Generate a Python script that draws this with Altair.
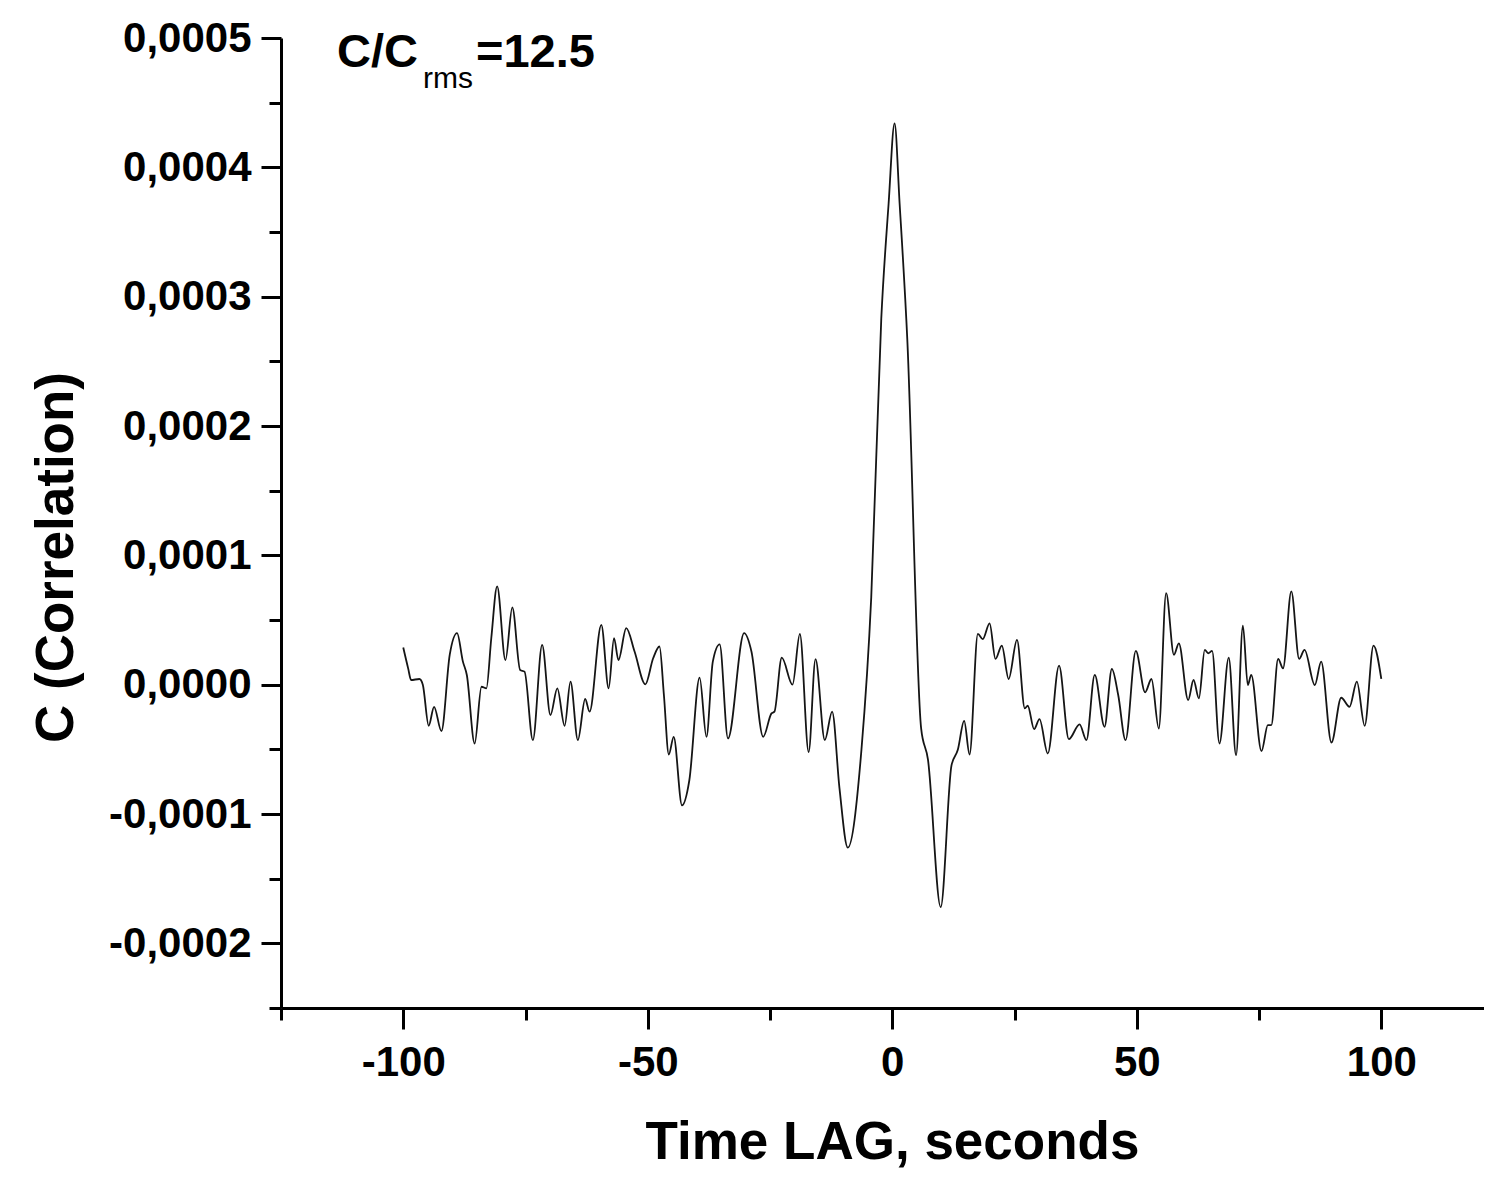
import altair as alt
import pandas as pd

# ---- data (lag in seconds, correlation in units of 1e-4) ----
lag = [
    -100.0, -99.0, -98.4, -96.7, -96.0, -94.8, -93.7, -92.2, -90.5, -89.0,
    -87.8, -87.0, -85.4, -84.0, -83.0, -82.0, -80.8, -79.1, -77.7, -76.1,
    -75.2, -73.5, -71.6, -69.9, -68.5, -67.0, -65.8, -64.3, -62.8, -61.9,
    -59.5, -58.0, -56.9, -56.0, -54.4, -52.7, -50.5, -48.9, -47.6, -46.7,
    -45.7, -44.7, -43.0, -41.5, -39.4, -38.0, -36.7, -35.3, -33.6, -30.3,
    -28.8, -26.4, -24.7, -24.1, -22.6, -20.4, -18.9, -17.1, -15.7, -13.8,
    -12.3, -10.8, -9.1, -6.3, -4.3, -2.25, -0.75, 0.47, 1.5, 3.07,
    5.9, 7.3, 9.9, 12.1, 13.4, 14.7, 15.8, 17.5, 18.5, 19.9,
    21.1, 22.4, 23.8, 25.5, 27.1, 27.7, 29.0, 30.1, 31.8, 34.1,
    36.1, 38.3, 39.7, 41.4, 43.4, 44.9, 46.2, 47.7, 49.8, 51.7,
    53.0, 54.5, 56.0, 57.6, 58.6, 60.5, 61.6, 62.7, 63.9, 64.6,
    65.4, 66.9, 68.8, 70.3, 71.7, 72.7, 73.4, 75.5, 76.8, 77.5,
    78.9, 79.9, 81.6, 83.2, 84.3, 86.4, 87.7, 89.8, 91.8, 93.5,
    95.0, 96.6, 98.4, 100.0,
]
corr_e4 = [
    0.287, 0.126, 0.036, 0.044, 0.0, -0.318, -0.171, -0.359, 0.23, 0.398,
    0.178, 0.075, -0.455, -0.016, -0.028, 0.359, 0.76, 0.19, 0.597, 0.114,
    0.101, -0.429, 0.308, -0.235, -0.028, -0.318, 0.023, -0.429, -0.111, -0.209,
    0.463, -0.028, 0.359, 0.19, 0.437, 0.256, 0.003, 0.204, 0.295, -0.08,
    -0.54, -0.403, -0.933, -0.739, 0.054, -0.403, 0.178, 0.312, -0.416, 0.398,
    0.256, -0.403, -0.222, -0.209, 0.209, 0.0, 0.393, -0.521, 0.198, -0.428,
    -0.208, -0.8, -1.26, -0.5, 0.677, 2.83, 3.72, 4.34, 3.72, 2.67,
    -0.338, -0.58, -1.72, -0.626, -0.504, -0.28, -0.54, 0.393, 0.352, 0.474,
    0.199, 0.302, 0.044, 0.346, -0.183, -0.163, -0.344, -0.266, -0.532, 0.147,
    -0.421, -0.307, -0.429, 0.075, -0.326, 0.121, -0.08, -0.429, 0.261, -0.059,
    0.044, -0.339, 0.708, 0.23, 0.32, -0.119, 0.036, -0.106, 0.269, 0.243,
    0.261, -0.455, 0.209, -0.545, 0.457, -0.003, 0.075, -0.514, -0.313, -0.313,
    0.199, 0.126, 0.721, 0.199, 0.269, -0.003, 0.178, -0.447, -0.101, -0.171,
    0.023, -0.318, 0.302, 0.044,
]

x_major = [-100, -50, 0, 50, 100]
x_minor = [-125, -75, -25, 25, 75]
y_major = [-0.0002, -0.0001, 0.0, 0.0001, 0.0002, 0.0003, 0.0004, 0.0005]
y_minor = [-0.00025, -0.00015, -0.00005, 0.00005, 0.00015, 0.00025, 0.00035, 0.00045]

x_title = "Time LAG, seconds"
y_title = "C (Correlation)"
ann_main = "C/C"
ann_sub = "rms"
ann_tail = "=12.5"

df = pd.DataFrame({"lag": lag, "corr": [v * 1e-4 for v in corr_e4]})

FONT = "Liberation Sans, Arial, Helvetica, sans-serif"
W, H = 1203, 970
x_scale = alt.Scale(domain=[-125, 121.0], nice=False, zero=False)
y_scale = alt.Scale(domain=[-0.00025, 0.0005], nice=False, zero=False)

x_lbl = "(datum.value < 0 ? '-' : '') + format(abs(datum.value), 'd')"
y_lbl = "(datum.value < 0 ? '-' : '') + replace(format(abs(datum.value), '.4f'), '.', ',')"

line = alt.Chart(df).mark_line(
    color="#151515", strokeWidth=1.8, interpolate="monotone"
).encode(
    x=alt.X("lag:Q", scale=x_scale, axis=alt.Axis(
        orient="bottom", values=x_major, labelExpr=x_lbl, grid=False,
        domainColor="black", domainWidth=3, tickColor="black", tickWidth=3, tickSize=21,
        labelFont=FONT, labelFontSize=42, labelFontWeight="bold", labelColor="black",
        labelPadding=13, labelFlush=False, labelOverlap=False,
        title=x_title, titleFont=FONT, titleFontSize=53, titleFontWeight="bold",
        titleColor="black", titleX=611, titleY=150, titleBaseline="alphabetic",
    )),
    y=alt.Y("corr:Q", scale=y_scale, axis=alt.Axis(
        orient="left", values=y_major, labelExpr=y_lbl, grid=False,
        domainColor="black", domainWidth=3, tickColor="black", tickWidth=3, tickSize=20,
        labelFont=FONT, labelFontSize=42, labelFontWeight="bold", labelColor="black",
        labelPadding=10, labelFlush=False, labelOverlap=False,
        title=y_title, titleFont=FONT, titleFontSize=53, titleFontWeight="bold",
        titleColor="black", titleAngle=270, titleX=-209, titleY=519,
        titleBaseline="alphabetic", titleAlign="center",
    )),
)

minor = alt.Chart(df).mark_line(strokeOpacity=0).encode(
    x=alt.X("lag:Q", scale=x_scale, title=None, axis=alt.Axis(
        orient="bottom", values=x_minor, labels=False, domain=False, grid=False,
        tickColor="black", tickWidth=3, tickSize=12,
    )),
    y=alt.Y("corr:Q", scale=y_scale, title=None, axis=alt.Axis(
        orient="left", values=y_minor, labels=False, domain=False, grid=False,
        tickColor="black", tickWidth=3, tickSize=12,
    )),
)

t1 = alt.Chart(pd.DataFrame({"t": [ann_main]})).mark_text(
    align="left", baseline="alphabetic", font=FONT, fontSize=47, fontWeight="bold", color="black"
).encode(x=alt.value(56), y=alt.value(29), text="t:N")
t2 = alt.Chart(pd.DataFrame({"t": [ann_sub]})).mark_text(
    align="left", baseline="alphabetic", font=FONT, fontSize=30, fontWeight="normal", color="black"
).encode(x=alt.value(142), y=alt.value(50), text="t:N")
t3 = alt.Chart(pd.DataFrame({"t": [ann_tail]})).mark_text(
    align="left", baseline="alphabetic", font=FONT, fontSize=47, fontWeight="bold", color="black"
).encode(x=alt.value(195), y=alt.value(29), text="t:N")

chart = alt.layer(line, minor, t1, t2, t3).resolve_axis(
    x="independent", y="independent"
).properties(
    width=W, height=H,
    padding={"left": 273, "top": 30, "right": 0, "bottom": 162},
    autosize=alt.AutoSizeParams(type="none"),
    background="white",
).configure_view(strokeWidth=0)

chart.save("out.html", embed_options={"renderer": "svg", "actions": False})
